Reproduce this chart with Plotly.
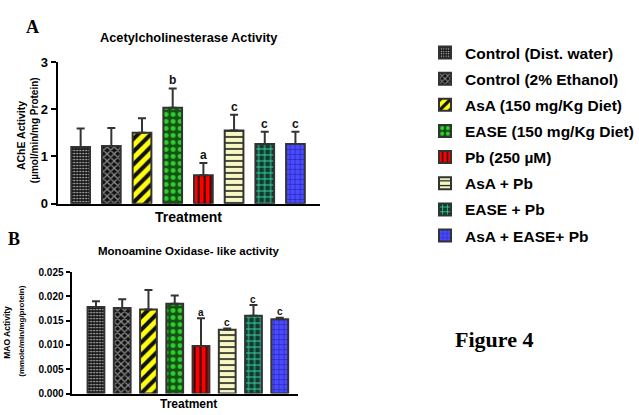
import plotly.graph_objects as go

# Treatment groups (shared legend)
groups = [
    "Control (Dist. water)",
    "Control (2% Ethanol)",
    "AsA (150 mg/Kg Diet)",
    "EASE (150 mg/Kg Diet)",
    "Pb (250 µM)",
    "AsA + Pb",
    "EASE + Pb",
    "AsA + EASE+ Pb",
]

# Panel A: AChE activity (µmol/min/mg protein), mean and SD
ache_mean = [1.20, 1.22, 1.50, 2.03, 0.60, 1.55, 1.26, 1.26]
ache_sd = [0.39, 0.38, 0.31, 0.41, 0.26, 0.33, 0.26, 0.26]
ache_sig = ["", "", "", "b", "a", "c", "c", "c"]

# Panel B: MAO-like activity (mmole/min/mg protein), mean and SD
mao_mean = [0.0178, 0.0176, 0.0173, 0.0185, 0.0098, 0.0131, 0.0160, 0.0153]
mao_sd = [0.0012, 0.0018, 0.0040, 0.0017, 0.0057, 0.0003, 0.0022, 0.0003]
mao_sig = ["", "", "", "", "a", "c", "c", "c"]

# Fill patterns for each group: (shape, background, foreground, size, solidity)
patterns = [
    (".", "#151515", "#d8d8d8", 3, 0.25),
    ("x", "#111111", "#8a8a8a", 5, 0.45),
    ("/", "#ffff10", "#111111", 9, 0.45),
    (".", "#145214", "#2fcf2f", 7, 0.4),
    ("|", "#ff0000", "#1a0000", 6, 0.3),
    ("-", "#f7f7c4", "#111111", 6, 0.25),
    ("+", "#103a2e", "#3ad6a6", 6, 0.3),
    ("+", "#4a4aff", "#2020a0", 5, 0.2),
]

FONT = "Liberation Sans, Arial, sans-serif"
SERIF = "Liberation Serif, Times New Roman, serif"
OUTLINE = "#333333"

fig = go.Figure()

x_pos = list(range(len(groups)))

for i, name in enumerate(groups):
    shape, bg, fg, size, sol = patterns[i]
    pat = dict(shape=shape, bgcolor=bg, fgcolor=fg, size=size,
               solidity=sol, fillmode="replace")
    fig.add_trace(go.Bar(
        x=[x_pos[i]], y=[ache_mean[i]], name=name, width=0.61,
        legendgroup=f"g{i}", showlegend=True,
        marker=dict(color=bg, pattern=pat,
                    line=dict(color=OUTLINE, width=2)),
        error_y=dict(type="data", array=[ache_sd[i]], arrayminus=[0],
                     symmetric=False, color=OUTLINE, thickness=2, width=4),
        xaxis="x", yaxis="y",
    ))
    fig.add_trace(go.Bar(
        x=[x_pos[i]], y=[mao_mean[i]], name=name, width=0.64,
        legendgroup=f"g{i}", showlegend=False,
        marker=dict(color=bg, pattern=pat,
                    line=dict(color=OUTLINE, width=2)),
        error_y=dict(type="data", array=[mao_sd[i]], arrayminus=[0],
                     symmetric=False, color=OUTLINE, thickness=2, width=4),
        xaxis="x2", yaxis="y2",
    ))

# Significance letters above the error bars
for i in range(len(groups)):
    if ache_sig[i]:
        fig.add_annotation(x=x_pos[i], y=ache_mean[i] + ache_sd[i],
                           xref="x", yref="y", text=f"<b>{ache_sig[i]}</b>",
                           showarrow=False, yshift=8,
                           font=dict(family=FONT, size=12, color="#111"))
    if mao_sig[i]:
        fig.add_annotation(x=x_pos[i], y=mao_mean[i] + mao_sd[i],
                           xref="x2", yref="y2", text=f"<b>{mao_sig[i]}</b>",
                           showarrow=False, yshift=6,
                           font=dict(family=FONT, size=10, color="#111"))

W, H = 639, 415


def px_x(p):
    return p / W


def px_y(p):
    return 1 - p / H


axis_common = dict(showline=True, linecolor="black", linewidth=2,
                   showgrid=False, zeroline=False, mirror=False)

fig.update_layout(
    width=W, height=H,
    margin=dict(l=0, r=0, t=0, b=0),
    paper_bgcolor="white", plot_bgcolor="white",
    barmode="overlay",
    font=dict(family=FONT, color="black"),
    xaxis=dict(domain=[px_x(58), px_x(322)], range=[-0.75, 7.8],
               showticklabels=False, ticks="", anchor="y", **axis_common),
    yaxis=dict(domain=[px_y(204), px_y(57)], range=[0, 3], dtick=1,
               ticks="outside", ticklen=5, tickwidth=2, tickcolor="black",
               tickfont=dict(family=FONT, size=13, weight="bold"),
               anchor="x", **axis_common),
    xaxis2=dict(domain=[px_x(72), px_x(300)], range=[-0.93, 7.7],
                showticklabels=False, ticks="", anchor="y2", **axis_common),
    yaxis2=dict(domain=[px_y(401), px_y(275)], range=[0, 0.025], dtick=0.005,
                tickformat=".3f", ticks="outside", ticklen=4, tickwidth=2,
                tickcolor="black",
                tickfont=dict(family=FONT, size=10, weight="bold"),
                anchor="x2", **axis_common),
    legend=dict(x=px_x(428), y=px_y(30), xanchor="left", yanchor="top",
                traceorder="grouped", tracegroupgap=3,
                font=dict(family=FONT, size=15.5, weight="bold", color="black"),
                bgcolor="rgba(0,0,0,0)"),
    showlegend=True,
)

# Panel labels, titles and axis titles
texts = [
    ("A", 33, 21, 18, SERIF, 0),
    ("B", 14, 241, 18, SERIF, 0),
    ("Acetylcholinesterase Activity", 190, 32, 12.8, FONT, 0),
    ("Monoamine Oxidase- like activity", 190, 253, 11.5, FONT, 0),
    ("Treatment", 190, 218, 14, FONT, 0),
    ("Treatment", 190, 412, 12, FONT, 0),
    ("AChE Activity", 21, 133, 10.5, FONT, -90),
    ("(µmol/min/mg Protein)", 35, 128, 10, FONT, -90),
    ("MAO Activity", 7, 337, 8.5, FONT, -90),
    ("(mmole/min/mg/protein)", 22, 336, 8, FONT, -90),
    ("Figure 4", 497, 345, 22, SERIF, 0),
]
for txt, cx, cy, size, fam, ang in texts:
    fig.add_annotation(x=px_x(cx), y=px_y(cy), xref="paper", yref="paper",
                       text=f"<b>{txt}</b>", showarrow=False, textangle=ang,
                       xanchor="center", yanchor="middle",
                       font=dict(family=fam, size=size, color="black"))

fig.write_html("out.html")
